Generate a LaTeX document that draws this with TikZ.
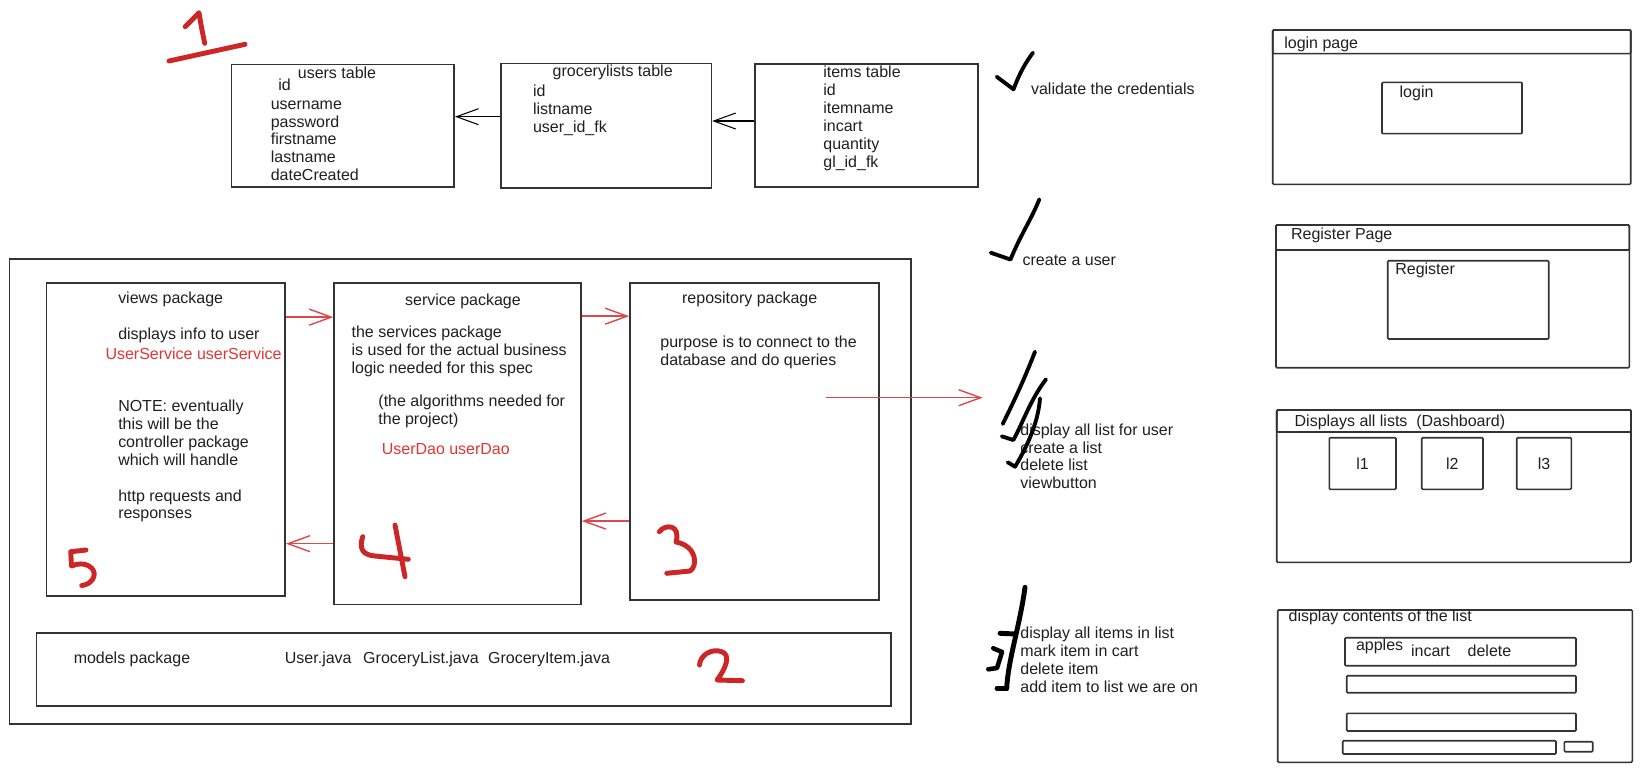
\documentclass[tikz,border=0pt]{standalone}
\usepackage{fontspec}
\setmainfont{Liberation Sans}
\usetikzlibrary{arrows.meta, calc, fit}

\definecolor{inkred}{RGB}{205,38,38}
\definecolor{flowred}{RGB}{222,72,72}
\definecolor{codered}{RGB}{226,52,52}
\definecolor{edge}{RGB}{51,51,51}

\begin{document}
\begin{tikzpicture}[
    x=0.02cm, y=-0.02cm,
    >={Straight Barb[length=0.44cm, width=0.32cm]},
    box/.style={draw=edge, line width=0.9pt, inner sep=0pt},
    panel/.style={box, rounded corners=0.6pt},
    txt/.style={inner sep=0pt, anchor=base west, align=left, text=black!88},
    ttl/.style={txt, anchor=base},
    code/.style={txt, text=codered},
    link/.style={->, black, line width=0.6pt},
    flow/.style={->, flowred, line width=0.8pt},
    tick/.style={black, line width=2.2pt, line cap=round, line join=round},
    digit/.style={inkred, line width=2.8pt, line cap=round, line join=round},
    every node/.append style={font=\fontsize{9.1}{10.15}\selectfont}
]
    \useasboundingbox (0,0) rectangle (1642,772);

    % database tables (multi-line texts sit on their last baseline)
    \node[box, fit={(231.5,64.3) (454.2,186.7)}] (users) {};
    \node[box, fit={(501,63.3) (711.4,187.7)}] (glists) {};
    \node[box, fit={(755,64) (977.7,186.7)}] (items) {};

    \node[ttl] (users-t) at (337,78.3) {users table};
    \node[txt] (users-id) at (278,90.7) {id};
    \node[txt] (users-f) at (270.5,180.6) {username\\password\\firstname\\lastname\\dateCreated};
    \node[ttl] (glists-t) at (612.7,76) {grocerylists table};
    \node[txt] (glists-f) at (532.7,132.5) {id\\listname\\user\_id\_fk};
    \node[txt] (items-f) at (823,167) {items table\\id\\itemname\\incart\\quantity\\gl\_id\_fk};

    \draw[link] ($(glists.north west)!.43!(glists.south west)$) coordinate (g-out) -- (g-out -| users.east);
    \draw[link] ($(items.north west)!.465!(items.south west)$) coordinate (i-out) -- (i-out -| glists.east);

    % packages
    \node[box, fit={(9.6,259) (911,724)}] (app) {};
    \node[box, fit={(46.7,282.7) (285.1,595.7)}] (views) {};
    \node[box, fit={(334.1,282.7) (581,604.3)}] (service) {};
    \node[box, fit={(630,282.7) (879,600)}] (repo) {};
    \node[box, fit={(36.4,632.7) (890.8,705.7)}] (models) {};

    \node[txt] (views-t) at (117.9,303.3) {views package};
    \node[txt] (views-d) at (117.9,339.3) {displays info to user};
    \node[code] (views-c) at (105.2,359) {UserService userService};
    \node[txt] (views-n) at (117.9,465.4) {NOTE: eventually\\this will be the\\controller package\\which will handle};
    \node[txt] (views-h) at (117.9,518.9) {http requests and\\responses};

    \node[ttl] (service-t) at (463,305.7) {service package};
    \node[txt] (service-d) at (351.3,373.1) {the services package\\is used for the actual business\\logic needed for this spec};
    \node[txt] (service-a) at (378.1,424.6) {(the algorithms needed for\\the project)};
    \node[code] (service-c) at (381.5,454.3) {UserDao userDao};

    \node[ttl] (repo-t) at (749.7,303.3) {repository package};
    \node[txt] (repo-d) at (660,365.2) {purpose is to connect to the\\database and do queries};

    \node[txt] (models-t) at (73.4,663.3) {models package};
    \node[txt] (models-c) at (284.6,663.3) {User.java\hspace{0.73em}GroceryList.java\hspace{0.59em}GroceryItem.java};

    \draw[flow] ($(views.north east)!.112!(views.south east)$) coordinate (v-out) -- (v-out -| service.west);
    \draw[flow] ($(service.north east)!.106!(service.south east)$) coordinate (s-out) -- (s-out -| repo.west);
    \draw[flow] ($(repo.north west)!.75!(repo.south west)$) coordinate (r-back) -- (r-back -| service.east);
    \draw[flow] ($(service.north west)!.81!(service.south west)$) coordinate (s-back) -- (s-back -| views.east);
    \coordinate (db-from) at (826,397.7);
    \coordinate (db-to) at (982.7,397.7);
    \draw[flow] (db-from) -- (db-to);

    % requirements
    \node[txt] (req-login) at (1030.7,94) {validate the credentials};
    \node[txt] (req-reg) at (1022.3,265) {create a user};
    \node[txt] (req-dash) at (1020,488.7) {display all list for user\\create a list\\delete list\\viewbutton};
    \node[txt] (req-list) at (1020,692) {display all items in list\\mark item in cart\\delete item\\add item to list we are on};

    \draw[tick] (996.7,76.7) -- (1013.5,89.3) .. controls (1020,72) and (1026,62) .. (1033,52.7);
    \draw[tick] (990.7,252.7) -- (1010.5,259.5) .. controls (1020,236) and (1032,218) .. (1039.3,199.3);
    \draw[tick] (1035,351.7) .. controls (1022,385) and (1012,405) .. (1002.7,424);
    \draw[tick] (1046,379.3) .. controls (1030,400) and (1022,425) .. (1013.3,440) -- (1001.7,436.3);
    \draw[tick] (1040,398.3) .. controls (1038,425) and (1025,450) .. (1015,466.7) -- (1007.7,462.3);
    \draw[tick, line width=2.8pt] (1025,587.3) .. controls (1020,625) and (1008,660) .. (1006.7,688.3);
    \draw[tick, line width=2.8pt] (1000,633.3) -- (1015.5,634);
    \draw[tick, line width=2.6pt] (993.3,648.3) -- (1002,652) -- (997,668) -- (988.3,669.3);
    \draw[tick, line width=2.8pt] (997,688.3) -- (1006.7,688.3);

    % step numbers
    \draw[digit] (185.2,26.7) -- (199,12.7) .. controls (201,25) .. (204.7,43.3);
    \draw[digit] (169,61) -- (245,44.3);
    \draw[digit] (699.5,665) .. controls (700,655) and (712,648) .. (721.8,651.7) .. controls (731,655) and (726,668) .. (717.1,680) -- (742.4,680.7);
    \draw[digit] (659.3,531.7) .. controls (665,524) and (681,524) .. (676,542) .. controls (697,546) and (698,566) .. (690,571) -- (666.7,573.3);
    \draw[digit] (362.7,536.7) .. controls (359,548) and (362,555) .. (375,556) -- (408.3,559.3);
    \draw[digit] (395,525) -- (405,576.7);
    \draw[digit] (86,550) -- (70.7,551.7) -- (71.5,566) .. controls (85,560) and (96,568) .. (94,576) .. controls (92,583) and (86,585) .. (81.7,585.5);

    % page mockups
    \node[panel, fit={(1272.7,30) (1630.7,184.3)}] (login) {};
    \node[panel, fit={(1272.7,30) (1630.7,53.7)}] (login-bar) {};
    \node[txt] (login-t) at (1284,48.3) {login page};
    \node[panel, fit={(1382,82.3) (1522,133.7)}] (login-form) {};
    \node[txt] (login-l) at (1399.3,97.3) {login};

    \node[panel, fit={(1276,225) (1629.3,367.7)}] (register) {};
    \node[panel, fit={(1276,225) (1629.3,250)}] (register-bar) {};
    \node[txt] (register-t) at (1290.7,239) {Register Page};
    \node[panel, fit={(1387.7,260.7) (1548.7,339)}] (register-form) {};
    \node[txt] (register-l) at (1395,274) {Register};

    \node[panel, fit={(1276.7,410) (1631,562.3)}] (dash) {};
    \node[panel, fit={(1276.7,410) (1631,432)}] (dash-bar) {};
    \node[txt] (dash-t) at (1294.3,426) {Displays all lists\hspace{0.55em}(Dashboard)};
    \foreach \n/\xa/\xb in {1/1329.3/1396, 2/1421.7/1483, 3/1516.7/1571.3} {
        \node[panel, fit={(\xa,437.7) (\xb,489.3)}] (list-\n) {};
        \node[txt, anchor=center] (list-\n-l) at (list-\n) {l\n};
    }

    \node[panel, fit={(1277.7,610) (1632.3,762.3)}] (contents) {};
    \node[txt] (contents-t) at (1288.3,621.7) {display contents of the list};
    \node[panel, fit={(1345,637.7) (1576,665.7)}] (row-1) {};
    \node[txt] (row-1-a) at (1355.7,650.7) {apples};
    \node[txt] (row-1-b) at (1410.7,656) {incart};
    \node[txt] (row-1-c) at (1467.3,656) {delete};
    \node[panel, fit={(1346.7,675.7) (1576,692.7)}] (row-2) {};
    \node[panel, fit={(1346.7,713.3) (1576,731)}] (row-3) {};
    \node[panel, fit={(1342.7,740.7) (1556,754)}] (row-4) {};
    \node[panel, fit={(1564.3,741.7) (1592.7,751.7)}] (add-btn) {};
\end{tikzpicture}
\end{document}
